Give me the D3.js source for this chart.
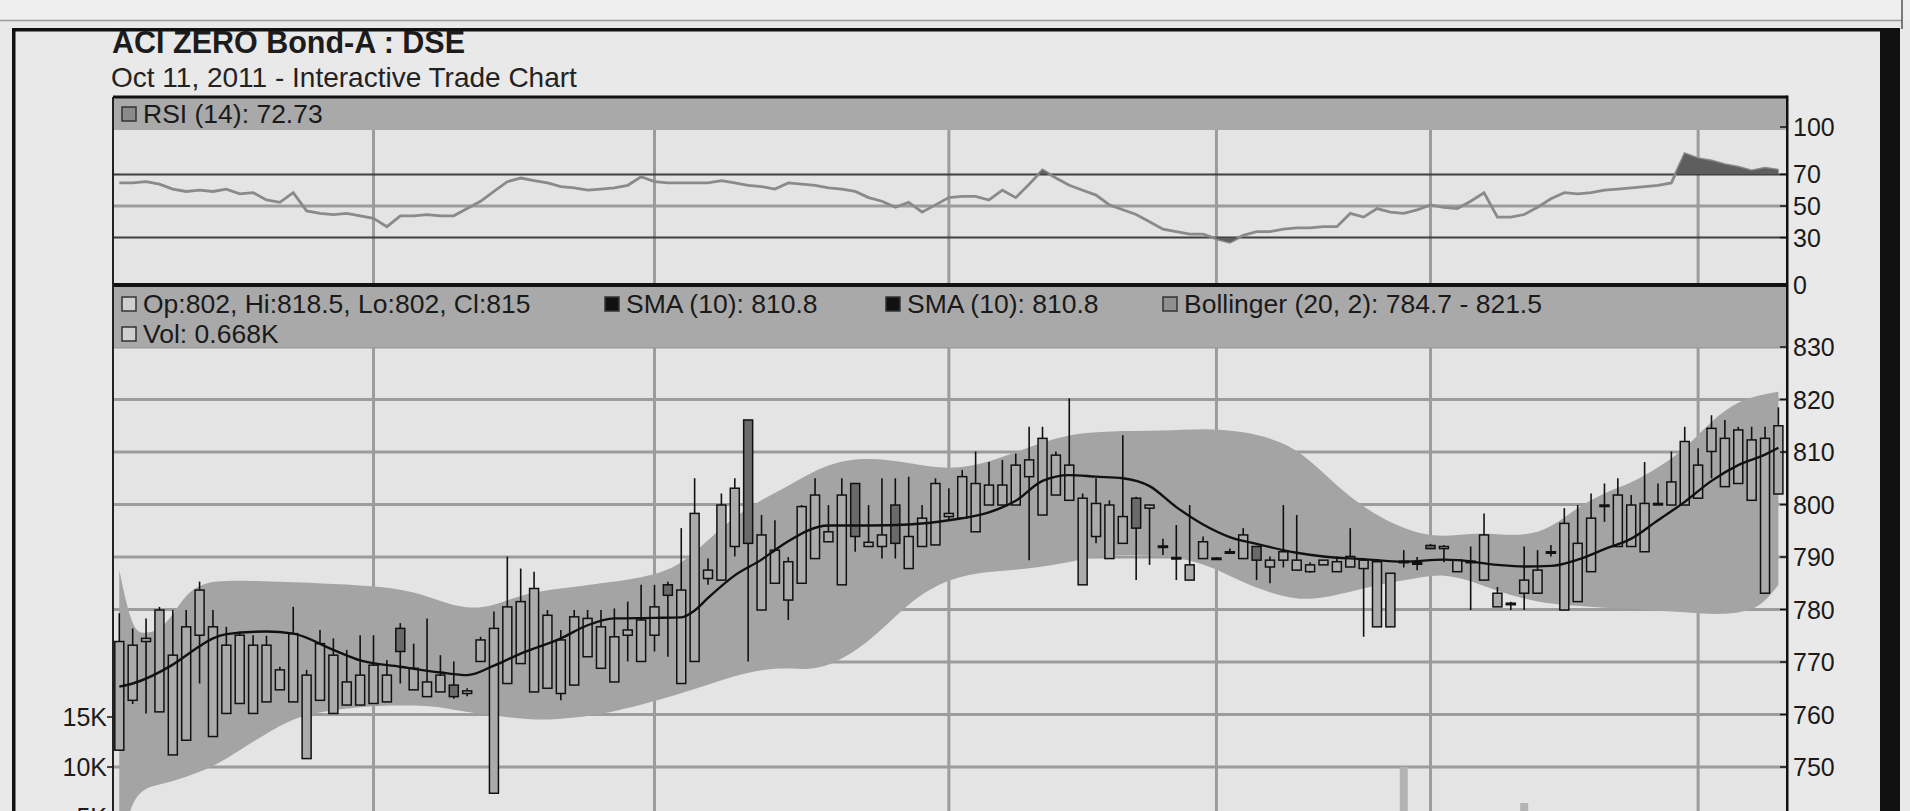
<!DOCTYPE html>
<html>
<head>
<meta charset="utf-8">
<script src="https://cdnjs.cloudflare.com/ajax/libs/d3/7.8.5/d3.min.js"></script>
<style>
body { margin: 0; background: #e9e9e9; overflow: hidden; }
svg { display: block; font-family: "Liberation Sans", Arial, sans-serif; }
</style>
</head>
<body>
<div id="viz"></div>
<script>
// daily candles, Apr - Oct 11 2011 (index = trading day)
let openVals = [753.2, 762.7, 773.9, 760.5, 752.3, 755.1, 775.1, 755.8, 760.2, 762.1,
  760.2, 762.4, 764.7, 762.4, 751.6, 762.7, 760.2, 761.8, 761.8, 762.1,
  762.4, 776.4, 764.7, 763.4, 764.3, 765.6, 764.0, 770.1, 745.0, 765.9,
  769.7, 764.3, 765.0, 764.0, 765.6, 771.0, 768.8, 766.2, 775.1, 770.1,
  775.1, 784.7, 765.9, 770.1, 785.9, 785.6, 792.0, 816.1, 779.9, 785.0,
  781.8, 785.0, 789.7, 792.9, 784.7, 804.0, 792.0, 792.0, 799.9, 787.8,
  792.0, 792.3, 797.7, 797.4, 794.8, 799.9, 799.9, 799.9, 805.3, 798.0,
  801.8, 800.8, 784.7, 793.9, 789.7, 792.6, 801.2, 799.3, 792.0, 789.7,
  785.6, 789.7, 789.7, 790.8, 789.7, 792.0, 788.1, 789.4, 787.5, 787.2,
  788.5, 787.2, 788.1, 787.8, 776.7, 776.7, 789.0, 788.7, 792.2, 791.6,
  787.2, 789.0, 785.6, 780.5, 781.0, 783.1, 783.1, 790.9, 779.9, 781.5,
  787.2, 799.8, 792.0, 792.0, 791.0, 800.0, 799.9, 799.9, 801.2, 810.1,
  803.4, 804.0, 800.8, 783.1, 802]
let highVals = [779.3, 776.4, 778.3, 780.5, 779.9, 779.9, 785.3, 779.9, 776.7, 775.8,
  775.1, 775.0, 769.1, 780.5, 768.5, 776.1, 774.5, 772.3, 775.1, 775.1,
  770.4, 777.4, 773.5, 778.3, 771.3, 770.1, 765.0, 774.8, 779.6, 790.1,
  787.8, 787.2, 779.9, 776.1, 779.9, 779.9, 779.9, 780.2, 781.5, 784.7,
  784.7, 785.3, 795.5, 805.0, 789.7, 802.1, 805.0, 816.1, 798.0, 797.0,
  790.0, 799.9, 805.0, 799.9, 805.0, 804.0, 799.9, 805.0, 805.0, 805.3,
  799.9, 805.0, 803.1, 806.6, 810.1, 808.1, 808.5, 809.7, 814.8, 814.8,
  810.1, 820.2, 802.1, 805.0, 800.8, 813.2, 801.5, 800.0, 793.5, 796.1,
  799.9, 793.9, 790.0, 791.6, 795.5, 792.0, 790.1, 799.9, 798.0, 789.0,
  789.4, 790.1, 795.5, 789.4, 789.1, 786.9, 791.3, 790.0, 792.5, 792.3,
  789.4, 792.0, 798.3, 784.3, 781.5, 792.0, 791.3, 792.3, 799.3, 799.9,
  802.1, 804.0, 805.0, 801.8, 808.1, 804.0, 810.1, 814.8, 810.7, 817.0,
  816.1, 814.8, 814.8, 814.8, 818.5]
let lowVals = [753.2, 762.0, 760.2, 760.5, 752.3, 755.1, 765.9, 755.8, 760.2, 762.1,
  760.2, 762.4, 764.7, 762.4, 751.6, 762.7, 760.2, 761.8, 761.8, 762.1,
  762.4, 765.9, 764.7, 763.4, 764.3, 763.0, 763.5, 770.1, 745.0, 765.9,
  769.7, 764.3, 765.0, 762.7, 765.6, 771.0, 768.8, 766.2, 770.1, 770.1,
  772.0, 771.0, 765.9, 770.1, 784.7, 785.6, 790.1, 770.1, 779.9, 785.0,
  778.0, 785.0, 789.7, 792.9, 784.7, 791.0, 792.0, 789.7, 789.7, 787.8,
  792.0, 792.3, 797.0, 797.4, 794.8, 799.9, 799.9, 799.9, 789.4, 798.0,
  801.8, 800.8, 784.7, 792.6, 789.7, 792.6, 785.6, 788.5, 790.4, 785.6,
  785.6, 789.7, 789.5, 790.8, 789.7, 785.6, 785.0, 788.0, 787.5, 787.0,
  788.5, 787.2, 788.1, 774.8, 776.7, 776.7, 788.0, 787.5, 791.5, 789.0,
  787.2, 779.9, 785.6, 780.5, 779.9, 779.9, 783.1, 790.1, 779.9, 781.5,
  787.2, 796.7, 792.0, 792.0, 791.0, 800.0, 799.9, 799.9, 801.2, 805.0,
  803.4, 804.0, 800.8, 783.1, 802]
let closeVals = [773.9, 773.2, 774.5, 779.9, 771.3, 776.7, 783.7, 776.7, 773.2, 775.1,
  773.2, 773.2, 768.5, 775.4, 767.5, 773.5, 771.3, 766.2, 767.5, 769.4,
  767.5, 772.0, 768.8, 766.2, 767.5, 763.4, 764.5, 774.2, 776.4, 780.5,
  781.5, 784.0, 778.9, 774.2, 778.6, 778.3, 776.7, 774.8, 776.1, 778.0,
  780.5, 782.7, 783.7, 798.3, 787.5, 799.9, 803.1, 792.6, 794.2, 791.3,
  789.1, 799.6, 801.8, 794.8, 801.8, 793.9, 792.8, 794.2, 792.6, 793.9,
  797.4, 804.0, 798.3, 805.3, 804.0, 803.7, 803.7, 807.5, 808.5, 812.6,
  809.4, 807.5, 801.2, 800.2, 799.9, 797.7, 795.5, 799.9, 792.1, 789.9,
  788.5, 792.9, 789.8, 791.0, 794.2, 789.4, 789.4, 791.0, 789.4, 788.5,
  789.4, 789.1, 790.1, 789.4, 789.1, 786.9, 789.2, 788.9, 791.6, 792.0,
  789.4, 789.2, 794.2, 783.1, 781.2, 785.6, 787.5, 791.0, 796.4, 792.6,
  797.4, 799.9, 801.8, 799.9, 800.2, 800.2, 804.3, 812.0, 807.5, 814.5,
  812.6, 814.2, 812.3, 812.6, 815]

let rsiVals = [64.6, 64.6, 65.4, 63.8, 60.7, 59.2, 60.0, 59.2, 60.7, 57.7,
  58.4, 53.8, 52.3, 58.4, 46.9, 45.3, 44.6, 45.3, 43.8, 42.2,
  36.9, 43.8, 43.8, 44.6, 43.8, 43.8, 48.4, 53.0, 59.2, 65.4,
  67.7, 66.1, 64.6, 62.3, 61.5, 60.0, 60.7, 61.5, 63.1, 68.5,
  65.4, 64.6, 64.6, 64.6, 64.6, 66.1, 64.6, 63.1, 62.3, 60.7,
  64.6, 63.8, 63.1, 61.5, 60.7, 59.2, 55.3, 53.0, 49.2, 52.3,
  46.1, 50.7, 55.3, 56.1, 56.1, 53.8, 60.0, 55.3, 63.8, 72.8,
  67.7, 63.1, 60.0, 56.9, 50.7, 47.6, 44.6, 40.0, 35.3, 33.8,
  32.2, 32.2, 29.2, 27.0, 31.4, 33.8, 33.8, 35.3, 36.1, 36.1,
  36.9, 36.9, 45.3, 43.0, 48.4, 46.1, 45.3, 47.6, 50.7, 49.2,
  48.4, 53.0, 58.4, 43.0, 43.0, 44.6, 49.2, 54.6, 58.4, 57.7,
  58.4, 60.0, 60.7, 61.5, 62.3, 63.1, 64.6, 83.1, 80.0, 78.5,
  76.2, 74.6, 72.3, 73.9, 72.73]

// [day index, value]
let smaPts = [[0, 765.3], [1, 765.9], [4, 769.5], [6, 773], [7, 774.5], [8, 775.3], [11, 775.8], [13, 775.4],
  [16, 772.3], [18, 770.3], [21, 769.1], [24, 768], [26, 767.5], [28, 769.3], [30, 771.6], [33, 774.5],
  [35, 777], [37, 778.3], [40, 778.4], [42, 778.5], [43, 779.8], [44, 782.2], [46, 786.5], [48, 789.5],
  [49, 791.3], [50, 793], [53, 796], [56, 796], [59, 796.2], [62, 797], [65, 798.5], [67, 800.7],
  [69, 804.5], [71, 805.6], [73, 805.3], [75, 805], [77, 803.5], [79, 799.5], [81, 796.2], [83, 793.8],
  [85, 792.5], [88, 790.8], [90, 790.1], [93, 789.6], [96, 789.1], [99, 789.5], [100, 789.4], [103, 788.5],
  [105, 788.2], [107, 788.3], [109, 789.5], [111, 791.5], [113, 793.5], [115, 797], [117, 800.5],
  [119, 804.5], [121, 807.5], [123, 809.5], [124, 810.8]]
let bandUpper = [[0, 787.5], [1, 775.5], [2, 775.5], [3, 776], [4, 779], [5, 783], [6, 784.5], [7, 785.5],
  [10, 785.5], [15, 785], [19, 784.5], [22, 783.5], [24, 781.5], [27, 779.5], [30, 783], [33, 784],
  [36, 785], [39, 786], [42, 788], [45, 796], [48, 801], [50, 803.5], [53, 808], [56, 809], [59, 808],
  [62, 806.5], [65, 808], [68, 811], [71, 813.5], [74, 814], [78, 814], [81, 814.5], [84, 814], [87, 812],
  [89, 808.5], [91, 803.5], [93, 799.5], [95, 796.5], [97, 794.5], [99, 793.8], [101, 794.5], [103, 794.4],
  [105, 794], [107, 795.5], [109, 799.5], [111, 802.3], [113, 804], [115, 807], [117, 810.5], [119, 816],
  [121, 819.8], [123, 821], [124, 821.5]]
let bandLower = [[0, 733], [1, 745.6], [3, 746.6], [5, 748.1], [7, 750], [9, 753.2], [11, 756.4], [13, 759.3],
  [15, 760.5], [18, 761.5], [21, 761.8], [24, 761.5], [25, 760.8], [28, 759.8], [31, 758.8], [34, 759.3],
  [37, 760.5], [40, 762.5], [43, 764.8], [46, 767.5], [49, 769], [51, 768.5], [53, 769], [56, 773.5],
  [59, 781.5], [62, 786], [65, 787.3], [68, 787.7], [71, 789], [74, 790.6], [78, 790.3], [81, 789],
  [84, 785], [87, 782.3], [89, 781.8], [91, 782.8], [93, 784], [95, 785.2], [97, 786], [99, 786.8],
  [101, 785.5], [103, 783.5], [105, 782], [107, 781], [110, 780.5], [112, 780.2], [114, 780], [116, 779.6],
  [118, 779.3], [120, 779], [122, 779.8], [123, 781.5], [124, 784.7]]

// volume (K); only these bars reach into the visible area
let volIdx = [96, 105]
let volVals = [10.0, 6.4]

let monthIdx = [19, 40, 62, 82, 98, 118]
let rsiTicks = [100, 70, 50, 30, 0]
let priceTicks = [830, 820, 810, 800, 790, 780, 770, 760, 750, 740]
let volTicks = [15, 10, 5]

const W = 1910, H = 811
const left = 113, right = 1787
const rsiTop = 97, rsiHead = 130, rsiBottom = 285, priceHead = 347
const N = closeVals.length

let svg = d3.select('#viz').append('svg')
  .attr('width', W)
  .attr('height', H)

let x = d3.scaleLinear().domain([0, N - 1]).range([119.3, 1778.4])
let yRsi = d3.scaleLinear().domain([0, 100]).range([285, 127])
let yPrice = d3.scaleLinear().domain([750, 830]).range([767, 347])
let yVol = d3.scaleLinear().domain([0, 15]).range([867, 717])

let defs = svg.append('defs')
function clip(id, x0, y0, w, h) {
  defs.append('clipPath').attr('id', id)
    .append('rect').attr('x', x0).attr('y', y0).attr('width', w).attr('height', h)
}
clip('rsiClip', left, rsiHead, right - left, rsiBottom - rsiHead)
clip('overClip', left, rsiHead, right - left, yRsi(70) - rsiHead)
clip('underClip', left, yRsi(30), right - left, rsiBottom - yRsi(30))
clip('priceClip', left, rsiBottom, right - left, H - rsiBottom)

// page + top strip
svg.append('rect').attr('width', W).attr('height', H).attr('fill', '#e9e9e9')
svg.append('rect').attr('width', W).attr('height', 20).attr('fill', '#efefef')
svg.append('line').attr('x1', 0).attr('x2', 1902).attr('y1', 20.5).attr('y2', 20.5)
  .attr('stroke', '#9a9a9a').attr('stroke-width', 1.5)
svg.append('line').attr('x1', 1902).attr('x2', 1902).attr('y1', 0).attr('y2', 29)
  .attr('stroke', '#555').attr('stroke-width', 1.5)

// outer frame
svg.append('rect').attr('x', 12).attr('y', 28).attr('width', 1888).attr('height', 3.5).attr('fill', '#111')
svg.append('rect').attr('x', 12).attr('y', 28).attr('width', 3.5).attr('height', H).attr('fill', '#111')
svg.append('rect').attr('x', 1880).attr('y', 28).attr('width', 20).attr('height', H).attr('fill', '#111')

svg.append('text').attr('x', 112).attr('y', 53)
  .attr('font-size', 30.5).attr('font-weight', 'bold').attr('fill', '#1c1c1c')
  .text('ACI ZERO Bond-A : DSE')
svg.append('text').attr('x', 111).attr('y', 87)
  .attr('font-size', 28).attr('fill', '#222')
  .text('Oct 11, 2011 - Interactive Trade Chart')

// ---- RSI panel
svg.append('rect').attr('x', left).attr('y', rsiTop).attr('width', right - left).attr('height', rsiBottom - rsiTop)
  .attr('fill', '#e4e4e4')

let rsiG = svg.append('g').attr('clip-path', 'url(#rsiClip)')
monthIdx.forEach((m) => {
  rsiG.append('line').attr('x1', x(m)).attr('x2', x(m)).attr('y1', rsiHead).attr('y2', rsiBottom)
    .attr('stroke', '#9c9c9c').attr('stroke-width', 3)
})
rsiG.append('line').attr('x1', left).attr('x2', right).attr('y1', yRsi(50)).attr('y2', yRsi(50))
  .attr('stroke', '#9c9c9c').attr('stroke-width', 3)
;[70, 30].forEach((v) => {
  rsiG.append('line').attr('x1', left).attr('x2', right).attr('y1', yRsi(v)).attr('y2', yRsi(v))
    .attr('stroke', '#3a3a3a').attr('stroke-width', 2)
})

let overArea = d3.area().x((d, i) => x(i)).y0(yRsi(70)).y1(d => yRsi(d))
let underArea = d3.area().x((d, i) => x(i)).y0(yRsi(30)).y1(d => yRsi(d))
svg.append('path').attr('clip-path', 'url(#overClip)').attr('d', overArea(rsiVals)).attr('fill', '#5e5e5e')
svg.append('path').attr('clip-path', 'url(#underClip)').attr('d', underArea(rsiVals)).attr('fill', '#5e5e5e')

rsiG.append('path')
  .attr('d', d3.line().x((d, i) => x(i)).y(d => yRsi(d))(rsiVals))
  .attr('fill', 'none').attr('stroke', '#8a8a8a').attr('stroke-width', 2.8)

svg.append('rect').attr('x', left).attr('y', rsiTop).attr('width', right - left).attr('height', rsiHead - rsiTop)
  .attr('fill', '#a9a9a9')

// ---- price panel
svg.append('rect').attr('x', left).attr('y', rsiBottom).attr('width', right - left).attr('height', H - rsiBottom)
  .attr('fill', '#e4e4e4')
let priceG = svg.append('g').attr('clip-path', 'url(#priceClip)')

priceTicks.forEach((t) => {
  priceG.append('line').attr('x1', left).attr('x2', right).attr('y1', yPrice(t)).attr('y2', yPrice(t))
    .attr('stroke', '#9c9c9c').attr('stroke-width', 3)
})
monthIdx.forEach((m) => {
  priceG.append('line').attr('x1', x(m)).attr('x2', x(m)).attr('y1', rsiBottom).attr('y2', H)
    .attr('stroke', '#9c9c9c').attr('stroke-width', 3)
})

let bandLine = d3.line().x(d => x(d[0])).y(d => yPrice(d[1])).curve(d3.curveBasis)
let upperPath = bandLine(bandUpper)
let lowerPath = bandLine(bandLower.slice().reverse())
priceG.append('path')
  .attr('d', upperPath + 'L' + lowerPath.slice(1) + 'Z')
  .attr('fill', '#a4a4a4')

volIdx.forEach((vi, k) => {
  priceG.append('rect')
    .attr('x', x(vi) - 4).attr('width', 8)
    .attr('y', yVol(volVals[k])).attr('height', yVol(0) - yVol(volVals[k]))
    .attr('fill', '#b3b3b3')
})

for (let i = 0; i < N; i++) {
  let o = openVals[i], c = closeVals[i]
  priceG.append('line')
    .attr('x1', x(i)).attr('x2', x(i))
    .attr('y1', yPrice(highVals[i])).attr('y2', yPrice(lowVals[i]))
    .attr('stroke', '#111').attr('stroke-width', 1.6)
  let top = yPrice(Math.max(o, c))
  let h = Math.max(1.5, yPrice(Math.min(o, c)) - top)
  priceG.append('rect')
    .attr('x', x(i) - 4.5).attr('width', 9)
    .attr('y', top).attr('height', h)
    .attr('fill', c >= o ? '#ababab' : '#6a6a6a')
    .attr('stroke', '#111').attr('stroke-width', 1.5)
}

priceG.append('path')
  .attr('d', d3.line().x(d => x(d[0])).y(d => yPrice(d[1])).curve(d3.curveMonotoneX)(smaPts))
  .attr('fill', 'none').attr('stroke', '#111').attr('stroke-width', 2.4)

svg.append('rect').attr('x', left).attr('y', rsiBottom).attr('width', right - left).attr('height', priceHead - rsiBottom)
  .attr('fill', '#a9a9a9')

// frame lines
svg.append('rect').attr('x', left).attr('y', rsiTop - 1.5).attr('width', right - left).attr('height', 3).attr('fill', '#111')
svg.append('rect').attr('x', left).attr('y', rsiBottom - 2).attr('width', right - left).attr('height', 4).attr('fill', '#111')
svg.append('rect').attr('x', left - 1).attr('y', rsiTop).attr('width', 2).attr('height', H).attr('fill', '#222')
svg.append('rect').attr('x', right - 1).attr('y', rsiTop - 1.5).attr('width', 2.5).attr('height', H).attr('fill', '#111')

// right axis
let axisG = svg.append('g').attr('font-size', 25).attr('fill', '#1a1a1a')
rsiTicks.forEach((t) => {
  axisG.append('line').attr('x1', right - 7).attr('x2', right).attr('y1', yRsi(t)).attr('y2', yRsi(t))
    .attr('stroke', '#111').attr('stroke-width', 1.5)
  axisG.append('text').attr('x', right + 6).attr('y', yRsi(t)).attr('dy', '0.36em').text(t)
})
priceTicks.forEach((t) => {
  axisG.append('line').attr('x1', right - 7).attr('x2', right).attr('y1', yPrice(t)).attr('y2', yPrice(t))
    .attr('stroke', '#111').attr('stroke-width', 1.5)
  axisG.append('text').attr('x', right + 6).attr('y', yPrice(t)).attr('dy', '0.36em').text(t)
})
// left volume axis
volTicks.forEach((t) => {
  axisG.append('line').attr('x1', left - 6).attr('x2', left).attr('y1', yVol(t)).attr('y2', yVol(t))
    .attr('stroke', '#111').attr('stroke-width', 1.5)
  axisG.append('text').attr('x', left - 6).attr('y', yVol(t)).attr('dy', '0.36em')
    .attr('text-anchor', 'end').text(t + 'K')
})

// legends
function legendItem(x0, yBase, fill, label) {
  svg.append('rect').attr('x', x0).attr('y', yBase - 16).attr('width', 14).attr('height', 14)
    .attr('fill', fill).attr('stroke', '#333').attr('stroke-width', 1.5)
  svg.append('text').attr('x', x0 + 21).attr('y', yBase).attr('font-size', 26.5).attr('fill', '#1a1a1a').text(label)
}
legendItem(122, 123, '#8a8a8a', 'RSI (14): 72.73')
legendItem(122, 313, '#cfcfcf', 'Op:802, Hi:818.5, Lo:802, Cl:815')
legendItem(605, 313, '#111', 'SMA (10): 810.8')
legendItem(886, 313, '#111', 'SMA (10): 810.8')
legendItem(1163, 313, '#8f8f8f', 'Bollinger (20, 2): 784.7 - 821.5')
legendItem(122, 343, '#cfcfcf', 'Vol: 0.668K')
</script>
</body>
</html>
